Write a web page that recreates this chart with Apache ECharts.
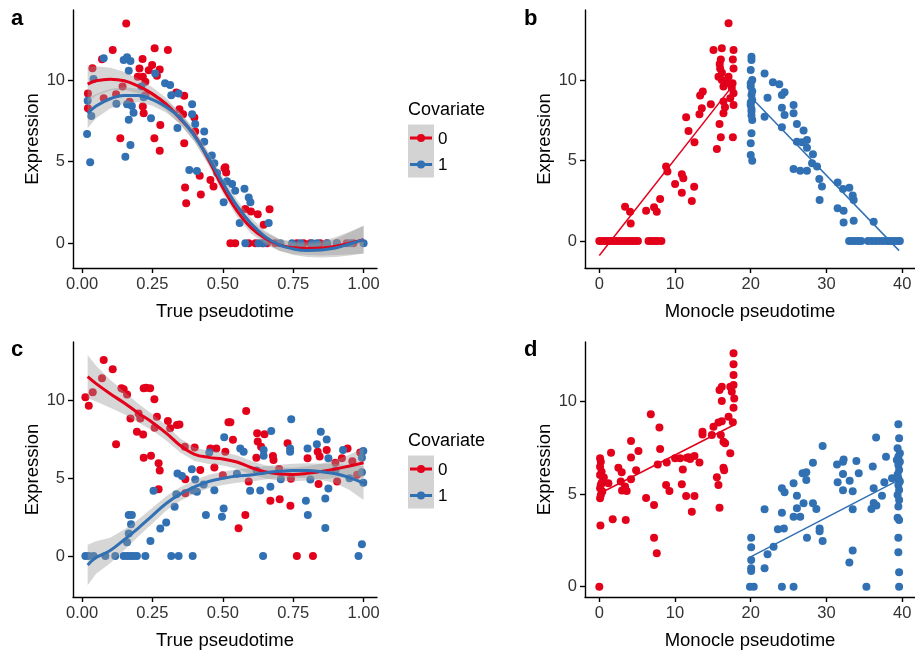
<!DOCTYPE html>
<html><head><meta charset="utf-8">
<script src="https://cdn.jsdelivr.net/npm/echarts@6/dist/echarts.min.js"></script>
<style>html,body{margin:0;padding:0;background:#fff}#c{width:915px;height:654px}</style>
</head><body><div id="c"></div>
<script>
// ---------------- DATA ----------------
const tickTrue = [0, 0.25, 0.5, 0.75, 1];
const tickMon = [0, 10, 20, 30, 40];
const tickExpr = [0, 5, 10];
const xLabelTrue = 'True pseudotime';
const xLabelMon = 'Monocle pseudotime';
const yLabel = 'Expression';
const legendTitle = 'Covariate';
const legendKeys = ['0', '1'];
const panelTags = ['a', 'b', 'c', 'd'];

// Panel a points
const aRed = [[0.157,13.47],[0.109,11.84],[0.071,11.27],[0.258,11.94],[0.305,11.84],[0.215,11.29],[0.249,10.92],[0.276,10.65],[0.204,10.7],[0.237,10.6],[0.198,10.2],[0.216,10.2],[0.266,10.26],[0.225,9.9],[0.037,10.72],[0.021,9.18],[0.021,8.27],[0.077,8.88],[0.121,9.13],[0.144,9.6],[0.169,8.67],[0.216,8.37],[0.219,7.96],[0.225,9.07],[0.136,6.43],[0.257,6.43],[0.278,7.24],[0.276,5.67],[0.335,9.24],[0.363,9.04],[0.346,8.21],[0.359,7.9],[0.399,7.7],[0.402,6.84],[0.363,6.12],[0.366,3.41],[0.37,2.45],[0.418,4.14],[0.422,2.99],[0.456,3.87],[0.506,4.59],[0.509,4.65],[0.512,4.33],[0.467,3.47],[0.666,2.08],[0.624,1.78],[0.6,1.94],[0.645,1.13],[0.58,2.1],[0.527,0],[0.544,0],[0.592,0],[0.616,0],[0.64,0],[0.657,0],[0.686,0],[0.763,0],[0.787,0],[0.811,0],[0.846,0],[0.87,0],[0.905,0],[0.94,0],[0.964,0]];
const aBlue = [[0.077,11.33],[0.148,11.23],[0.16,11.4],[0.172,11.17],[0.166,10.57],[0.26,10.4],[0.295,9.8],[0.313,9.7],[0.317,9.07],[0.343,9.18],[0.041,10.06],[0.02,8.73],[0.033,7.8],[0.018,6.69],[0.029,4.96],[0.122,8.55],[0.16,8.51],[0.177,8.41],[0.183,8.0],[0.166,7.56],[0.172,6.02],[0.154,5.3],[0.245,7.65],[0.219,8.95],[0.211,9.6],[0.391,8.51],[0.391,7.9],[0.402,7.3],[0.339,7.06],[0.434,6.84],[0.434,6.22],[0.381,4.49],[0.408,4.43],[0.461,5.37],[0.515,3.8],[0.503,2.51],[0.533,3.63],[0.544,3.22],[0.577,3.33],[0.592,2.8],[0.598,2.51],[0.663,1.23],[0.56,1.23],[0.47,4.9],[0.48,4.3],[0.58,0],[0.627,0],[0.645,0],[0.704,0],[0.746,0],[0.776,0],[0.817,0],[0.835,0],[0.87,0],[0.905,0],[0.953,0],[1.0,0]];

// Smooth fits (x grid shared) for panels a and c
const fitX = [0.02,0.05,0.1,0.15,0.2,0.25,0.3,0.35,0.4,0.45,0.5,0.55,0.6,0.65,0.7,0.75,0.8,0.85,0.9,0.95,1.0];
const aRedFit = [9.75,9.95,10.05,9.95,9.62,9.15,8.5,7.6,6.6,5.1,3.4,2.0,0.95,0.3,-0.1,-0.28,-0.33,-0.3,-0.18,0.0,0.22];
const aRedSE = [1.1,0.9,0.7,0.55,0.45,0.4,0.38,0.36,0.36,0.36,0.36,0.36,0.36,0.36,0.36,0.38,0.4,0.45,0.55,0.7,0.85];
const aBlueFit = [7.95,8.4,8.85,9.05,9.05,8.8,8.35,7.65,6.55,5.2,3.7,2.3,1.2,0.4,-0.1,-0.35,-0.45,-0.42,-0.3,-0.05,0.22];
const aBlueSE = [0.9,0.75,0.6,0.5,0.42,0.38,0.36,0.36,0.36,0.36,0.36,0.36,0.36,0.36,0.36,0.38,0.4,0.45,0.55,0.7,0.85];

// Panel b points
const bRed = [[0,0],[0.3,0],[0.7,0],[1.1,0],[1.5,0],[1.9,0],[2.3,0],[2.7,0],[3.1,0],[3.5,0],[3.9,0],[4.3,0],[4.7,0],[5.1,0],[6.5,0],[6.9,0],[7.3,0],[7.7,0],[8.2,0],[3.4,2.13],[4.06,1.82],[4.15,1.09],[6.18,1.88],[7.23,2.09],[7.59,1.82],[8.03,2.6],[8.82,4.62],[9.0,4.31],[10.01,3.54],[10.9,4.14],[11.1,3.89],[10.9,3.0],[12.22,2.48],[12.53,3.37],[12.57,6.13],[11.78,6.83],[11.47,7.68],[13.23,7.87],[13.54,8.25],[13.32,9.03],[13.67,9.28],[14.73,8.5],[15.08,11.86],[16.18,11.97],[17.07,13.52],[17.73,11.86],[17.64,11.28],[17.73,10.72],[15.96,10.72],[15.74,10.2],[16.18,10.0],[17.07,10.2],[16.4,9.59],[17.5,9.5],[17.73,9.18],[16.4,8.66],[17.73,8.45],[16.4,7.93],[15.88,7.27],[16.05,6.44],[15.53,5.72],[17.64,6.44],[16.05,11.28],[16.84,9.8],[17.3,8.87],[16.2,10.45],[15.9,11.0],[17.6,9.8],[16.6,8.3]];
const bBlue = [[20.1,11.45],[20.1,11.24],[20.0,10.62],[20.2,10.0],[20.0,9.59],[20.1,9.07],[20.2,8.76],[20.0,8.45],[20.1,8.04],[20.2,7.52],[20.1,6.69],[20.0,6.07],[20.0,5.34],[20.2,4.99],[20.0,9.8],[20.2,9.3],[20.0,8.6],[20.1,8.2],[20.1,7.8],[21.83,10.41],[22.22,8.9],[21.83,7.72],[22.93,9.86],[23.77,9.73],[24.47,9.24],[24.12,9.07],[24.12,8.28],[24.47,7.83],[25.66,8.45],[25.66,7.93],[24.12,7.06],[26.1,7.27],[26.98,6.86],[26.1,6.17],[26.76,6.13],[27.43,6.27],[27.43,5.79],[28.22,5.38],[28.1,4.83],[28.76,4.62],[25.66,4.47],[26.54,4.37],[27.43,4.37],[29.06,3.85],[29.41,3.38],[29.1,2.55],[31.48,3.64],[32.19,3.23],[33.03,3.31],[33.47,2.82],[33.6,2.55],[31.48,2.04],[32.27,1.88],[32.27,1.15],[33.6,1.26],[36.24,1.2],[33,0],[33.4,0],[33.8,0],[34.2,0],[34.6,0],[35.5,0],[36,0],[36.5,0],[37,0],[37.5,0],[38,0],[38.3,0],[38.6,0],[39,0],[39.4,0],[39.7,0]];
const bRedLine = [[0,-0.9],[17.7,9.7]];
const bBlueLine = [[20.1,8.9],[39.6,-0.6]];

// Panel c points
const cRed = [[0.077,12.62],[0.109,12.02],[0.071,11.44],[0.012,10.22],[0.024,9.68],[0.038,10.54],[0.14,10.8],[0.148,10.73],[0.16,10.4],[0.219,10.8],[0.228,10.84],[0.242,10.8],[0.257,10.09],[0.266,8.97],[0.201,9.18],[0.207,8.86],[0.172,8.86],[0.195,8.0],[0.217,7.83],[0.258,8.26],[0.305,8.69],[0.313,8.22],[0.337,8.43],[0.346,8.47],[0.121,7.19],[0.219,6.33],[0.245,6.46],[0.272,5.97],[0.276,5.5],[0.272,4.3],[0.367,4.94],[0.367,4.04],[0.4,6.99],[0.365,7.03],[0.42,5.54],[0.456,6.93],[0.477,6.93],[0.509,6.72],[0.52,8.61],[0.583,9.34],[0.527,8.61],[0.536,7.48],[0.622,7.9],[0.648,7.84],[0.624,7.37],[0.636,7.04],[0.619,6.33],[0.678,6.44],[0.68,6.18],[0.73,7.26],[0.801,6.29],[0.837,6.72],[0.844,6.4],[0.869,6.82],[0.943,6.93],[0.923,6.29],[0.988,6.67],[0.669,3.56],[0.702,3.65],[0.74,3.24],[0.58,2.64],[0.556,1.78],[0.763,0],[0.82,0],[0.592,4.8],[0.84,4.64],[0.906,4.8],[0.977,5.23],[0.742,4.97],[0.5,5.2],[0.96,6.1],[0.9,6.0],[0.7,5.6],[0.47,5.7]];
const cBlue = [[0.012,0],[0.024,0],[0.041,0],[0.083,0],[0.118,0],[0.148,0],[0.16,0],[0.172,0],[0.183,0],[0.195,0],[0.225,0],[0.317,0],[0.343,0],[0.393,0],[0.643,0],[0.982,0],[0.243,0.97],[0.16,0.88],[0.166,1.45],[0.166,2.64],[0.177,2.64],[0.174,2.05],[0.278,1.77],[0.299,2.16],[0.329,3.17],[0.254,4.2],[0.335,3.98],[0.339,5.31],[0.355,5.15],[0.39,5.59],[0.402,4.92],[0.394,4.23],[0.408,4.13],[0.44,2.64],[0.497,2.53],[0.503,3.06],[0.47,4.23],[0.432,4.6],[0.505,7.64],[0.452,6.67],[0.562,6.93],[0.574,6.72],[0.597,4.2],[0.633,4.21],[0.672,8.05],[0.669,4.46],[0.645,6.82],[0.645,6.46],[0.743,8.8],[0.739,6.93],[0.739,6.72],[0.706,4.95],[0.801,6.93],[0.795,3.56],[0.802,2.64],[0.834,7.19],[0.848,8.0],[0.869,7.5],[0.875,6.29],[0.864,3.71],[0.875,4.35],[0.864,1.8],[0.927,6.82],[0.999,6.76],[0.994,6.33],[0.994,5.39],[0.999,4.72],[0.994,0.75],[0.811,4.93],[0.55,5.3],[0.62,5.5],[0.9,5.5],[0.95,5.0]];
const cRedFit = [11.55,11.1,10.45,9.85,9.2,8.6,7.9,7.1,6.55,6.35,6.25,6.05,5.7,5.42,5.28,5.25,5.32,5.45,5.6,5.8,6.0];
const cRedSE = [1.4,1.15,0.9,0.72,0.6,0.52,0.48,0.45,0.44,0.43,0.43,0.43,0.43,0.43,0.43,0.44,0.46,0.5,0.58,0.72,0.95];
const cBlueFit = [-0.58,-0.1,0.35,1.05,1.8,2.6,3.4,4.0,4.45,4.8,5.0,5.15,5.22,5.35,5.45,5.5,5.5,5.42,5.3,5.05,4.7];
const cBlueSE = [1.3,1.05,0.82,0.66,0.55,0.5,0.46,0.44,0.43,0.43,0.43,0.43,0.43,0.43,0.43,0.44,0.47,0.52,0.62,0.8,1.1];

// Panel d points
const dRed = [[0.1,6.94],[0.2,6.76],[0.1,6.49],[0.3,6.22],[0.1,6.04],[0.5,5.77],[0.2,5.5],[0.1,5.32],[0.4,5.14],[0.2,4.96],[0.1,4.78],[0.6,5.9],[0.3,5.6],[0.15,3.3],[0.0,0],[1.55,7.24],[1.2,5.59],[1.77,3.65],[3.49,3.6],[2.52,6.43],[2.96,6.18],[2.83,5.68],[3.4,5.41],[3.62,5.17],[4.19,7.87],[4.19,6.99],[5.17,7.33],[4.86,6.3],[4.19,5.81],[6.18,4.8],[6.8,9.32],[7.23,4.41],[7.23,2.65],[7.59,1.8],[7.94,8.6],[8.03,7.44],[7.72,6.61],[8.91,6.72],[8.82,5.5],[9.26,5.17],[10.01,6.94],[10.67,6.94],[11.56,6.97],[12.57,7.06],[11.03,6.33],[10.9,5.54],[11.47,4.9],[12.57,4.9],[12.22,4.05],[13.23,6.72],[13.63,8.38],[13.63,8.23],[14.86,8.2],[15.08,8.65],[15.74,8.88],[16.18,8.95],[16.05,8.2],[16.4,7.84],[16.62,7.75],[17.3,7.21],[15.53,5.92],[15.74,5.5],[16.4,6.43],[16.49,6.3],[15.88,4.27],[17.73,12.62],[17.73,12.02],[17.73,11.44],[17.73,10.9],[16.18,10.81],[17.3,10.81],[17.5,10.54],[16.18,10.04],[17.82,10.18],[17.73,9.68],[17.07,9.19],[17.64,8.89],[15.88,10.63],[11.8,7.0],[12.0,6.9],[3.0,5.2]];
const dBlue = [[20.06,2.65],[20.06,2.13],[20.06,1.44],[20.06,0.99],[20.06,0.85],[19.9,0],[20.4,0],[21.83,4.18],[21.83,0.99],[22.22,1.75],[23.02,2.16],[24.12,0],[25.66,0],[23.59,3.1],[24.38,3.15],[24.12,4.0],[24.12,5.32],[24.47,5.1],[25.66,5.59],[26.1,4.92],[26.1,4.24],[25.66,3.78],[26.54,3.78],[26.98,4.51],[28.22,4.51],[28.67,4.2],[27.43,2.65],[26.85,6.13],[27.34,6.18],[27.34,5.77],[28.22,6.7],[29.5,7.6],[29.1,3.15],[29.1,3.0],[29.5,2.47],[31.4,6.6],[32.19,6.75],[32.27,6.88],[31.48,5.65],[32.19,5.21],[32.19,6.09],[33.07,5.73],[33.47,5.16],[33.96,6.79],[34.27,6.13],[33.47,4.18],[33.47,1.96],[33.03,1.3],[35.28,0],[36.12,6.5],[36.56,8.06],[36.24,5.32],[36.24,4.53],[36.6,4.39],[35.94,4.2],[37.34,4.92],[37.65,5.65],[37.87,7.02],[38.66,5.86],[39.5,8.78],[39.6,8.02],[39.4,7.48],[39.7,7.21],[39.5,7.03],[39.3,6.85],[39.7,6.76],[39.5,6.58],[39.6,6.31],[39.4,6.07],[39.5,5.86],[39.7,5.68],[39.5,5.5],[39.6,5.23],[39.4,4.96],[39.6,4.69],[39.5,4.33],[39.4,3.73],[39.6,3.6],[39.5,2.65],[39.5,1.86],[39.6,0.78],[39.6,0]];
const dRedLine = [[0.1,5.05],[17.7,8.73]];
const dBlueLine = [[20.05,1.62],[39.7,5.8]];

// ---------------- STYLE / LAYOUT ----------------
const RED = '#E3001B', BLUE = '#3070B3';
const FONT = '"Liberation Sans", Arial, Helvetica, sans-serif';
const grids = [
  {left: 73, top: 10, width: 304, height: 258},
  {left: 585, top: 10, width: 330, height: 258},
  {left: 73, top: 342, width: 304, height: 255},
  {left: 585, top: 342, width: 330, height: 255}
];
const xr = [[-0.032, 1.0476], [-1.89, 41.7], [-0.032, 1.0476], [-1.89, 41.7]];
const yr = [[-1.52, 14.29], [-1.68, 14.35], [-2.64, 13.78], [-0.56, 13.23]];

function xAxisDef(i, ticks, fmt, name) {
  return {
    type: 'value', gridIndex: i, min: xr[i][0], max: xr[i][1],
    name: name, nameLocation: 'middle', nameGap: 34,
    nameTextStyle: {fontSize: 18.5, color: '#000', fontFamily: FONT},
    axisLine: {show: true, onZero: false, lineStyle: {color: '#000', width: 1.4}},
    axisTick: {show: true, length: 5, customValues: ticks, lineStyle: {color: '#000', width: 1.4}},
    axisLabel: {customValues: ticks, formatter: fmt, fontSize: 16.5, color: '#333', margin: 8, fontFamily: FONT},
    splitLine: {show: false}
  };
}
function yAxisDef(i) {
  return {
    type: 'value', gridIndex: i, min: yr[i][0], max: yr[i][1],
    name: yLabel, nameLocation: 'middle', nameGap: 30, nameRotate: 90,
    nameTextStyle: {fontSize: 18.5, color: '#000', fontFamily: FONT},
    axisLine: {show: true, onZero: false, lineStyle: {color: '#000', width: 1.4}},
    axisTick: {show: true, length: 5, customValues: tickExpr, lineStyle: {color: '#000', width: 1.4}},
    axisLabel: {customValues: tickExpr, formatter: v => String(v), fontSize: 16.5, color: '#333', margin: 8, fontFamily: FONT},
    splitLine: {show: false}
  };
}
const fmt2 = v => v.toFixed(2);
const fmt0 = v => String(v);

function scatter(i, data, color) {
  return {type: 'scatter', xAxisIndex: i, yAxisIndex: i, data: data, symbolSize: 8,
    itemStyle: {color: color, opacity: 1}, z: 2, silent: true};
}
function fitLine(i, xs, ys, color, w) {
  return {type: 'line', xAxisIndex: i, yAxisIndex: i, data: xs.map((x, k) => [x, ys[k]]),
    smooth: 0.4, showSymbol: false, symbol: 'none', lineStyle: {color: color, width: w}, z: 5, silent: true};
}
// confidence band drawn as a polygon through the axis' coordinate system
function band(i, xs, ys, se) {
  const rows = xs.map((x, k) => [x, ys[k] - se[k], ys[k] + se[k]]);
  return {
    type: 'custom', xAxisIndex: i, yAxisIndex: i, data: rows, encode: {x: 0, y: [1, 2]},
    z: 3, silent: true, clip: true,
    renderItem: function (params, api) {
      if (params.dataIndex !== 0) return null;
      const up = rows.map(r => api.coord([r[0], r[2]]));
      const lo = rows.map(r => api.coord([r[0], r[1]])).reverse();
      return {type: 'polygon', shape: {points: up.concat(lo)},
        style: {fill: 'rgba(153,153,153,0.4)', stroke: null}};
    }
  };
}
function straight(i, data, color) {
  return {type: 'line', xAxisIndex: i, yAxisIndex: i, data: data, symbol: 'none', showSymbol: false,
    lineStyle: {color: color, width: 1.5}, z: 5, silent: true};
}

function legendEls(top) {
  const t = 'normal 18px ' + FONT;
  return [
    {type: 'text', x: 408, y: top, style: {text: legendTitle, font: t, fill: '#000', verticalAlign: 'middle'}},
    {type: 'rect', shape: {x: 408, y: top + 14, width: 26, height: 53}, style: {fill: '#D3D3D3'}},
    {type: 'line', shape: {x1: 410, y1: top + 27.5, x2: 432, y2: top + 27.5}, style: {stroke: RED, lineWidth: 3}},
    {type: 'circle', shape: {cx: 421, cy: top + 27.5, r: 4}, style: {fill: RED}},
    {type: 'line', shape: {x1: 410, y1: top + 54, x2: 432, y2: top + 54}, style: {stroke: BLUE, lineWidth: 3}},
    {type: 'circle', shape: {cx: 421, cy: top + 54, r: 4}, style: {fill: BLUE}},
    {type: 'text', x: 438, y: top + 29, style: {text: legendKeys[0], font: 'normal 17px ' + FONT, fill: '#000', verticalAlign: 'middle'}},
    {type: 'text', x: 438, y: top + 55, style: {text: legendKeys[1], font: 'normal 17px ' + FONT, fill: '#000', verticalAlign: 'middle'}}
  ];
}
const tagFont = 'bold 22px ' + FONT;
const tags = [[11, 19], [524, 19], [11, 350], [524, 350]].map((p, k) => ({
  type: 'text', x: p[0], y: p[1], style: {text: panelTags[k], font: tagFont, fill: '#000', verticalAlign: 'middle'}
}));

const option = {
  animation: false,
  backgroundColor: '#fff',
  textStyle: {fontFamily: FONT},
  grid: grids.map(g => Object.assign({containLabel: false}, g)),
  xAxis: [xAxisDef(0, tickTrue, fmt2, xLabelTrue), xAxisDef(1, tickMon, fmt0, xLabelMon),
          xAxisDef(2, tickTrue, fmt2, xLabelTrue), xAxisDef(3, tickMon, fmt0, xLabelMon)],
  yAxis: [yAxisDef(0), yAxisDef(1), yAxisDef(2), yAxisDef(3)],
  series: [
    scatter(0, aRed, RED), scatter(0, aBlue, BLUE),
    band(0, fitX, aRedFit, aRedSE), band(0, fitX, aBlueFit, aBlueSE),
    fitLine(0, fitX, aRedFit, RED, 3), fitLine(0, fitX, aBlueFit, BLUE, 3),
    scatter(1, bRed, RED), scatter(1, bBlue, BLUE),
    straight(1, bRedLine, RED), straight(1, bBlueLine, BLUE),
    scatter(2, cRed, RED), scatter(2, cBlue, BLUE),
    band(2, fitX, cRedFit, cRedSE), band(2, fitX, cBlueFit, cBlueSE),
    fitLine(2, fitX, cRedFit, RED, 3), fitLine(2, fitX, cBlueFit, BLUE, 3),
    scatter(3, dRed, RED), scatter(3, dBlue, BLUE),
    straight(3, dRedLine, RED), straight(3, dBlueLine, BLUE)
  ],
  graphic: [...tags, ...legendEls(110.5), ...legendEls(441.5)]
};
const chart = echarts.init(document.getElementById('c'));
chart.setOption(option);
</script></body></html>
